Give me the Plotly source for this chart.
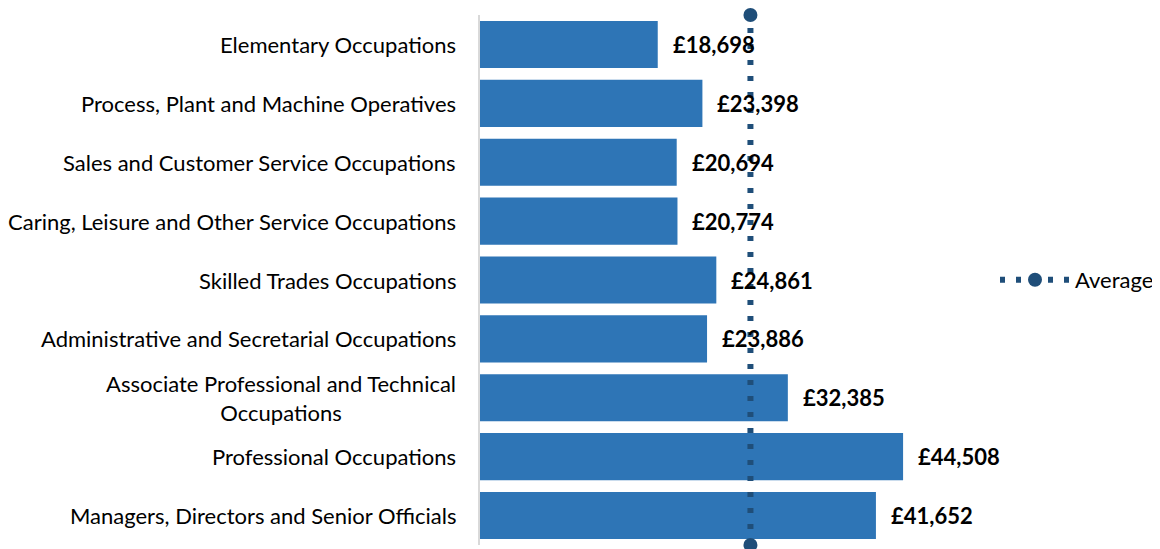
import plotly.graph_objects as go

categories = [
    "Elementary Occupations",
    "Process, Plant and Machine Operatives",
    "Sales and Customer Service Occupations",
    "Caring, Leisure and Other Service Occupations",
    "Skilled Trades Occupations",
    "Administrative and Secretarial Occupations",
    "Associate Professional and Technical<br>Occupations",
    "Professional Occupations",
    "Managers, Directors and Senior Officials",
]
salaries = [18698, 23398, 20694, 20774, 24861, 23886, 32385, 44508, 41652]
value_labels = ["£18,698", "£23,398", "£20,694", "£20,774", "£24,861",
                "£23,886", "£32,385", "£44,508", "£41,652"]
average_value = 28450
average_name = "Average"

BAR_COLOR = "#2e75b6"
AVG_COLOR = "#1f4e79"
FONT = "Lato"

fig = go.Figure()
fig.add_trace(go.Bar(
    y=categories, x=salaries, orientation="h",
    marker=dict(color=BAR_COLOR, line=dict(width=0)),
    showlegend=False, hoverinfo="x+y",
))

fig.add_trace(go.Scatter(
    x=[average_value, average_value], y=[0, 1], yaxis="y2",
    mode="lines+markers", name=average_name,
    line=dict(color=AVG_COLOR, width=6, dash="5px,11px"),
    marker=dict(color=AVG_COLOR, size=14),
    cliponaxis=False,
))

annotations = []
for cat in categories:
    annotations.append(dict(
        xref="paper", yref="y", x=0, y=cat, text=cat,
        xanchor="right", yanchor="middle", align="center", xshift=-22,
        showarrow=False, font=dict(family=FONT, size=22, color="#000000"),
    ))
for cat, val, lab in zip(categories, salaries, value_labels):
    annotations.append(dict(
        xref="x", yref="y", x=val, y=cat, text="<b>" + lab + "</b>",
        xanchor="left", yanchor="middle", xshift=13,
        showarrow=False, font=dict(family=FONT, size=22, color="#000000"),
    ))

fig.update_layout(
    width=1152, height=541,
    margin=dict(l=472, r=180, t=7, b=4, autoexpand=False),
    paper_bgcolor="white", plot_bgcolor="white",
    bargap=0.2,
    font=dict(family=FONT, size=22, color="#000000"),
    xaxis=dict(range=[0, 52600], visible=False, fixedrange=True),
    yaxis=dict(categoryorder="array", categoryarray=categories,
               autorange="reversed", showticklabels=False, ticks="",
               showgrid=False, zeroline=False,
               showline=True, linecolor="#d9d9d9", linewidth=2),
    yaxis2=dict(overlaying="y", range=[0, 1], visible=False),
    legend=dict(x=1.03, y=0.5, xanchor="left", yanchor="middle",
                itemwidth=70,
                font=dict(family=FONT, size=22, color="#000000"),
                bgcolor="rgba(0,0,0,0)"),
    annotations=annotations,
)

fig.write_html("out.html")
